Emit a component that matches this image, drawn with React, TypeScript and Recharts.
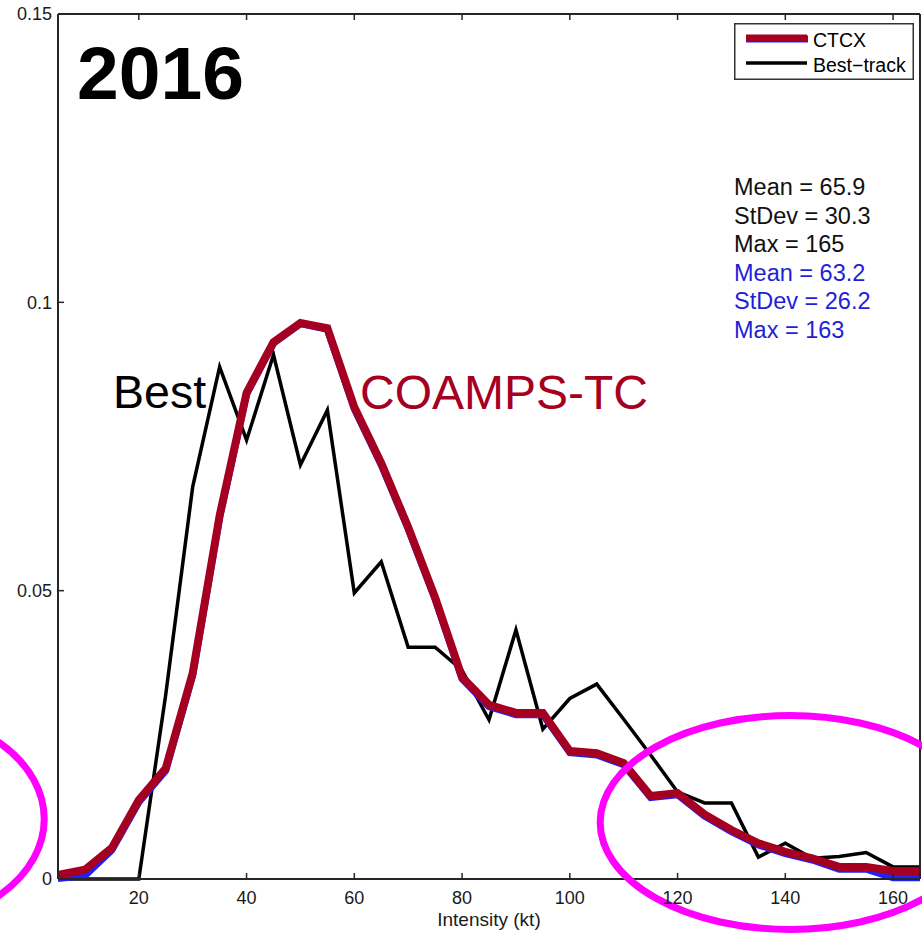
import React from "react";
import {
  LineChart,
  Line,
  XAxis,
  YAxis,
  Legend,
  ReferenceDot,
  Customized,
} from "recharts";

// Intensity bins (kt) and the normalized frequency of each source.
const INTENSITY = [
  5, 10, 15, 20, 25, 30, 35, 40, 45, 50, 55, 60, 65, 70, 75, 80, 85, 90, 95,
  100, 105, 110, 115, 120, 125, 130, 135, 140, 145, 150, 155, 160, 165,
];

const BEST_TRACK = [
  0, 0, 0, 0, 0.032, 0.068, 0.0888, 0.0761, 0.0909, 0.0718, 0.0813, 0.0496,
  0.055, 0.0402, 0.0402, 0.0362, 0.0276, 0.0432, 0.026, 0.0313, 0.0338, 0.0277,
  0.0215, 0.0151, 0.0132, 0.0132, 0.0038, 0.0062, 0.0036, 0.0039, 0.0046,
  0.0021, 0.0021,
];

const CTCX = [
  0.0007, 0.0016, 0.0054, 0.0137, 0.0192, 0.0357, 0.063, 0.0843, 0.0931,
  0.0964, 0.0955, 0.0818, 0.0721, 0.061, 0.0488, 0.035, 0.0302, 0.0288, 0.0288,
  0.0222, 0.0218, 0.0201, 0.0144, 0.0149, 0.0112, 0.0085, 0.0062, 0.0047,
  0.0036, 0.0021, 0.0021, 0.0014, 0.0014,
];

// thin blue trace sitting just under the CTCX curve
const CTCX_RAW = [
  0.0001, 0.0006, 0.005, 0.0133, 0.0188, 0.0353, 0.0627, 0.0841, 0.0929,
  0.0963, 0.0953, 0.0815, 0.0718, 0.0607, 0.0485, 0.0347, 0.0299, 0.0285,
  0.0285, 0.0219, 0.0215, 0.0198, 0.0141, 0.0146, 0.0109, 0.0082, 0.0059,
  0.0044, 0.0033, 0.0017, 0.0017, 0.0002, 0.0002,
];

const X_TICKS = [20, 40, 60, 80, 100, 120, 140, 160];
const Y_TICKS = [0, 0.05, 0.1, 0.15];

const BEST_STATS = ["Mean = 65.9", "StDev = 30.3", "Max = 165"];
const CTCX_STATS = ["Mean = 63.2", "StDev = 26.2", "Max = 163"];

const rows = INTENSITY.map((kt, i) => ({
  kt,
  best: BEST_TRACK[i],
  ctcx: CTCX[i],
  raw: CTCX_RAW[i],
}));

const FONT = "'Liberation Sans', Arial, Helvetica, sans-serif";
const AXIS = "#262626";
const RED = "#a50021";
const BLUE = "#1f1fd6";
const MAGENTA = "#ff00ff";

const blank = () => "";

function LegendBox() {
  return (
    <svg width={180} height={57} style={{ display: "block" }}>
      <rect x={0.75} y={0.75} width={178.5} height={55.5} fill="#fff" stroke="#333" strokeWidth={1.5} />
      <line x1={12} y1={16} x2={74} y2={16} stroke="#2020ff" strokeWidth={7} />
      <line x1={12} y1={15} x2={73} y2={15} stroke={RED} strokeWidth={7} />
      <line x1={12} y1={40} x2={73} y2={40} stroke="#000" strokeWidth={3.5} />
      <text x={79} y={24} fontSize={19.5} fill="#000">CTCX</text>
      <text x={79} y={49} fontSize={19.5} fill="#000">Best−track</text>
    </svg>
  );
}

function Annotations() {
  return (
    <g fontFamily={FONT}>
      <text x={77} y={99} fontSize={75} fontWeight="bold" fill="#000">2016</text>
      <text x={113} y={408} fontSize={46.5} fill="#000">Best</text>
      <text x={360} y={409} fontSize={48} fill={RED}>COAMPS-TC</text>
      {BEST_STATS.map((s, i) => (
        <text key={s} x={734} y={195 + i * 28.5} fontSize={23.5} fill="#111">{s}</text>
      ))}
      {CTCX_STATS.map((s, i) => (
        <text key={s} x={734} y={280.5 + i * 28.5} fontSize={23.5} fill={BLUE}>{s}</text>
      ))}
    </g>
  );
}

const ellipse = (rx: number, ry: number) => (p: any) => (
  <ellipse cx={p.cx} cy={p.cy} rx={rx} ry={ry} fill="none" stroke={MAGENTA} strokeWidth={7} />
);

export default function App() {
  return (
    <div style={{ position: "absolute", top: 0, left: 0, fontFamily: FONT, background: "#fff" }}>
      <LineChart width={922} height={933} data={rows} margin={{ top: 0, right: 0, bottom: 0, left: 0 }}>
        <XAxis
          xAxisId="b"
          dataKey="kt"
          type="number"
          domain={[5, 165]}
          ticks={X_TICKS}
          height={54}
          tickSize={-6}
          tickMargin={18}
          axisLine={{ stroke: AXIS, strokeWidth: 2 }}
          tickLine={{ stroke: AXIS, strokeWidth: 1.5 }}
          tick={{ fill: "#1a1a1a", fontSize: 18 }}
          label={{ value: "Intensity (kt)", position: "insideBottom", offset: 7, fill: "#1a1a1a", fontSize: 19 }}
        />
        <XAxis
          xAxisId="t"
          orientation="top"
          dataKey="kt"
          type="number"
          domain={[5, 165]}
          ticks={X_TICKS}
          height={14}
          tickSize={-6}
          tickFormatter={blank}
          axisLine={{ stroke: AXIS, strokeWidth: 2 }}
          tickLine={{ stroke: AXIS, strokeWidth: 1.5 }}
        />
        <YAxis
          yAxisId="l"
          type="number"
          domain={[0, 0.15]}
          ticks={Y_TICKS}
          width={58}
          tickSize={-6}
          tickMargin={12}
          axisLine={{ stroke: AXIS, strokeWidth: 2 }}
          tickLine={{ stroke: AXIS, strokeWidth: 1.5 }}
          tick={{ fill: "#1a1a1a", fontSize: 18 }}
        />
        <YAxis
          yAxisId="r"
          orientation="right"
          type="number"
          domain={[0, 0.15]}
          ticks={Y_TICKS}
          width={2}
          tickSize={-6}
          tickFormatter={blank}
          axisLine={{ stroke: AXIS, strokeWidth: 2 }}
          tickLine={{ stroke: AXIS, strokeWidth: 1.5 }}
        />
        <Legend
          layout="vertical"
          align="center"
          verticalAlign="middle"
          wrapperStyle={{ top: 23, left: 734, width: 180, height: 57 }}
          content={<LegendBox />}
        />
        <Line xAxisId="b" yAxisId="l" type="linear" dataKey="best" stroke="#000" strokeWidth={3.5} dot={false} isAnimationActive={false} />
        <Line xAxisId="b" yAxisId="l" type="linear" dataKey="raw" stroke="#2020ff" strokeWidth={7} dot={false} isAnimationActive={false} />
        <Line xAxisId="b" yAxisId="l" type="linear" dataKey="ctcx" stroke={RED} strokeWidth={8} dot={false} isAnimationActive={false} />
        <ReferenceDot xAxisId="b" yAxisId="l" x={140.9} y={0.0098} ifOverflow="visible" shape={ellipse(190, 107)} />
        <ReferenceDot xAxisId="b" yAxisId="l" x={-25.4} y={0.0104} ifOverflow="visible" shape={ellipse(150, 107)} />
        <Customized component={Annotations} />
      </LineChart>
    </div>
  );
}
